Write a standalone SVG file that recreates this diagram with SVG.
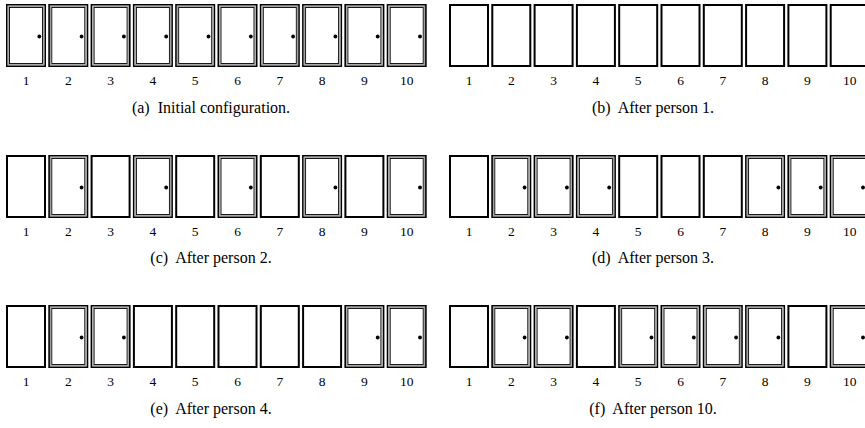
<svg xmlns="http://www.w3.org/2000/svg" xmlns:xlink="http://www.w3.org/1999/xlink" width="865" height="428" viewBox="0 0 865 428">
<style>
.lbl{font-family:"Liberation Serif","DejaVu Serif",serif;font-size:13.5px;fill:#000;text-anchor:middle}
.cap{font-family:"Liberation Serif","DejaVu Serif",serif;font-size:16px;fill:#000;text-anchor:middle}
</style>
<defs>
<g id="closed">
<rect x="0.8" y="0.8" width="38.4" height="61.4" fill="#fff" stroke="#000" stroke-width="1.6"/>
<rect x="2.3" y="2.3" width="35.4" height="58.4" fill="none" stroke="#a0a0a0" stroke-width="1.2"/>
<rect x="3.5" y="3.5" width="33" height="56" fill="none" stroke="#000" stroke-width="0.9"/>
<circle cx="33.3" cy="32.5" r="1.9" fill="#000"/>
</g>
<g id="open">
<rect x="1" y="1" width="38" height="61" fill="#fff" stroke="#000" stroke-width="2"/>
</g>
</defs>
<g id="panel-a" transform="translate(6,4)">
<use href="#closed" x="0" y="0"/><use href="#closed" x="42.3" y="0"/><use href="#closed" x="84.6" y="0"/><use href="#closed" x="126.9" y="0"/><use href="#closed" x="169.2" y="0"/><use href="#closed" x="211.5" y="0"/><use href="#closed" x="253.8" y="0"/><use href="#closed" x="296.1" y="0"/><use href="#closed" x="338.4" y="0"/><use href="#closed" x="380.7" y="0"/>
</g>
<g id="panel-b" transform="translate(449,4)">
<use href="#open" x="0" y="0"/><use href="#open" x="42.3" y="0"/><use href="#open" x="84.6" y="0"/><use href="#open" x="126.9" y="0"/><use href="#open" x="169.2" y="0"/><use href="#open" x="211.5" y="0"/><use href="#open" x="253.8" y="0"/><use href="#open" x="296.1" y="0"/><use href="#open" x="338.4" y="0"/><use href="#open" x="380.7" y="0"/>
</g>
<g id="panel-c" transform="translate(6,155)">
<use href="#open" x="0" y="0"/><use href="#closed" x="42.3" y="0"/><use href="#open" x="84.6" y="0"/><use href="#closed" x="126.9" y="0"/><use href="#open" x="169.2" y="0"/><use href="#closed" x="211.5" y="0"/><use href="#open" x="253.8" y="0"/><use href="#closed" x="296.1" y="0"/><use href="#open" x="338.4" y="0"/><use href="#closed" x="380.7" y="0"/>
</g>
<g id="panel-d" transform="translate(449,155)">
<use href="#open" x="0" y="0"/><use href="#closed" x="42.3" y="0"/><use href="#closed" x="84.6" y="0"/><use href="#closed" x="126.9" y="0"/><use href="#open" x="169.2" y="0"/><use href="#open" x="211.5" y="0"/><use href="#open" x="253.8" y="0"/><use href="#closed" x="296.1" y="0"/><use href="#closed" x="338.4" y="0"/><use href="#closed" x="380.7" y="0"/>
</g>
<g id="panel-e" transform="translate(6,305)">
<use href="#open" x="0" y="0"/><use href="#closed" x="42.3" y="0"/><use href="#closed" x="84.6" y="0"/><use href="#open" x="126.9" y="0"/><use href="#open" x="169.2" y="0"/><use href="#open" x="211.5" y="0"/><use href="#open" x="253.8" y="0"/><use href="#open" x="296.1" y="0"/><use href="#closed" x="338.4" y="0"/><use href="#closed" x="380.7" y="0"/>
</g>
<g id="panel-f" transform="translate(449,305)">
<use href="#open" x="0" y="0"/><use href="#closed" x="42.3" y="0"/><use href="#closed" x="84.6" y="0"/><use href="#open" x="126.9" y="0"/><use href="#closed" x="169.2" y="0"/><use href="#closed" x="211.5" y="0"/><use href="#closed" x="253.8" y="0"/><use href="#closed" x="296.1" y="0"/><use href="#open" x="338.4" y="0"/><use href="#closed" x="380.7" y="0"/>
</g>
<g id="labels">
<g transform="translate(26,85)">
<text class="lbl" x="0">1</text><text class="lbl" x="42.3">2</text><text class="lbl" x="84.6">3</text><text class="lbl" x="126.9">4</text><text class="lbl" x="169.2">5</text><text class="lbl" x="211.5">6</text><text class="lbl" x="253.8">7</text><text class="lbl" x="296.1">8</text><text class="lbl" x="338.4">9</text><text class="lbl" x="380.7">10</text>
</g>
<g transform="translate(469,85)">
<text class="lbl" x="0">1</text><text class="lbl" x="42.3">2</text><text class="lbl" x="84.6">3</text><text class="lbl" x="126.9">4</text><text class="lbl" x="169.2">5</text><text class="lbl" x="211.5">6</text><text class="lbl" x="253.8">7</text><text class="lbl" x="296.1">8</text><text class="lbl" x="338.4">9</text><text class="lbl" x="380.7">10</text>
</g>
<g transform="translate(26,236)">
<text class="lbl" x="0">1</text><text class="lbl" x="42.3">2</text><text class="lbl" x="84.6">3</text><text class="lbl" x="126.9">4</text><text class="lbl" x="169.2">5</text><text class="lbl" x="211.5">6</text><text class="lbl" x="253.8">7</text><text class="lbl" x="296.1">8</text><text class="lbl" x="338.4">9</text><text class="lbl" x="380.7">10</text>
</g>
<g transform="translate(469,236)">
<text class="lbl" x="0">1</text><text class="lbl" x="42.3">2</text><text class="lbl" x="84.6">3</text><text class="lbl" x="126.9">4</text><text class="lbl" x="169.2">5</text><text class="lbl" x="211.5">6</text><text class="lbl" x="253.8">7</text><text class="lbl" x="296.1">8</text><text class="lbl" x="338.4">9</text><text class="lbl" x="380.7">10</text>
</g>
<g transform="translate(26,386)">
<text class="lbl" x="0">1</text><text class="lbl" x="42.3">2</text><text class="lbl" x="84.6">3</text><text class="lbl" x="126.9">4</text><text class="lbl" x="169.2">5</text><text class="lbl" x="211.5">6</text><text class="lbl" x="253.8">7</text><text class="lbl" x="296.1">8</text><text class="lbl" x="338.4">9</text><text class="lbl" x="380.7">10</text>
</g>
<g transform="translate(469,386)">
<text class="lbl" x="0">1</text><text class="lbl" x="42.3">2</text><text class="lbl" x="84.6">3</text><text class="lbl" x="126.9">4</text><text class="lbl" x="169.2">5</text><text class="lbl" x="211.5">6</text><text class="lbl" x="253.8">7</text><text class="lbl" x="296.1">8</text><text class="lbl" x="338.4">9</text><text class="lbl" x="380.7">10</text>
</g>
</g>
<g id="captions">
<text class="cap" x="211" y="113" xml:space="preserve">(a)  Initial configuration.</text>
<text class="cap" x="653" y="113" xml:space="preserve">(b)  After person 1.</text>
<text class="cap" x="211" y="263" xml:space="preserve">(c)  After person 2.</text>
<text class="cap" x="653" y="263" xml:space="preserve">(d)  After person 3.</text>
<text class="cap" x="211" y="414" xml:space="preserve">(e)  After person 4.</text>
<text class="cap" x="653" y="414" xml:space="preserve">(f)  After person 10.</text>
</g>
</svg>
